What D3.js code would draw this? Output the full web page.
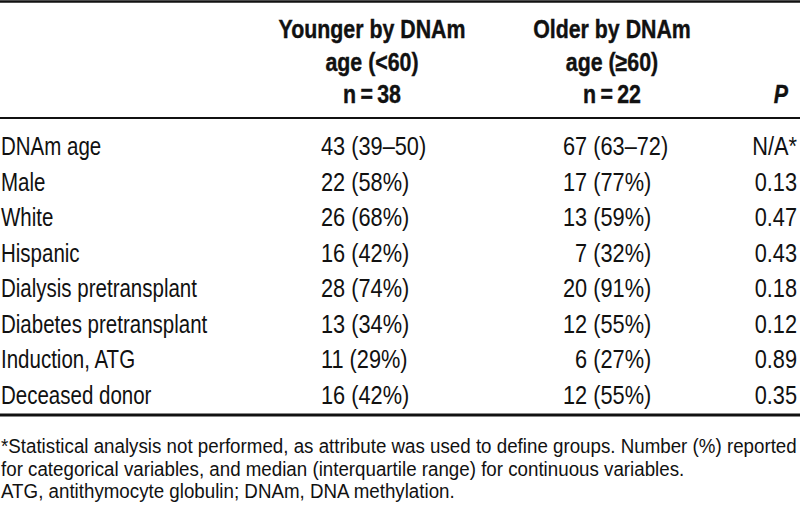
<!DOCTYPE html>
<html>
<head>
<meta charset="utf-8">
<script src="https://cdn.jsdelivr.net/npm/d3@7"></script>
<style>
  html, body { margin: 0; padding: 0; background: #fff; }
  svg { display: block; }
  text { font-family: "Liberation Sans", Arial, sans-serif; fill: #111; }
</style>
</head>
<body>
<svg id="chart" width="800" height="511"></svg>
<script>
const rowLabels = ["DNAm age", "Male", "White", "Hispanic", "Dialysis pretransplant", "Diabetes pretransplant", "Induction, ATG", "Deceased donor"];
const youngerValues = ["43 (39–50)", "22 (58%)", "26 (68%)", "16 (42%)", "28 (74%)", "13 (34%)", "11 (29%)", "16 (42%)"];
const olderValues = ["67 (63–72)", "17 (77%)", "13 (59%)", "\u20077 (32%)", "20 (91%)", "12 (55%)", "\u20076 (27%)", "12 (55%)"];
const pValues = ["N/A*", "0.13", "0.47", "0.43", "0.18", "0.12", "0.89", "0.35"];
const headerYounger = ["Younger by DNAm", "age (<60)", "n\u2009=\u200938"];
const headerOlder = ["Older by DNAm", "age (≥60)", "n\u2009=\u200922"];
const headerP = "P";
const footnotes = [
  "*Statistical analysis not performed, as attribute was used to define groups. Number (%) reported",
  "for categorical variables, and median (interquartile range) for continuous variables.",
  "ATG, antithymocyte globulin; DNAm, DNA methylation."
];

const svg = d3.select("#chart");
const W = 800;

const y = d3.scalePoint().domain(rowLabels).range([155, 404]);
const headerY = d3.scalePoint().domain(d3.range(3)).range([38, 103]);
const footY = d3.scalePoint().domain(d3.range(footnotes.length)).range([453, 498]);

const fs = 25, sx = 0.82, vsx = 0.87;
const hfs = 25.5;

function place(sel, x, yy, s) {
  sel.attr("transform", (d, i) => `translate(${typeof x === "function" ? x(d, i) : x},${typeof yy === "function" ? yy(d, i) : yy}) scale(${s},1)`);
}

// rules
const rules = [{y: 1.5, w: 2.5}, {y: 118, w: 2.2}, {y: 415, w: 3}];
svg.selectAll("line.rule").data(rules).join("line")
  .attr("class", "rule")
  .attr("x1", 0).attr("x2", W)
  .attr("y1", d => d.y).attr("y2", d => d.y)
  .attr("stroke", "#111").attr("stroke-width", d => d.w);

// headers
const hy = svg.selectAll("text.hy").data(headerYounger).join("text")
  .attr("class", "hy")
  .attr("text-anchor", "middle")
  .attr("font-size", hfs).attr("font-weight", "bold")
  .attr("stroke", "#111").attr("stroke-width", 0.4)
  .text(d => d);
const hsx = 187 / hy.node().getComputedTextLength();
hy.call(place, 372, (d, i) => headerY(i), hsx);
svg.selectAll("text.ho").data(headerOlder).join("text")
  .attr("class", "ho")
  .attr("text-anchor", "middle")
  .attr("font-size", hfs).attr("font-weight", "bold")
  .attr("stroke", "#111").attr("stroke-width", 0.4)
  .text(d => d)
  .call(place, 612, (d, i) => headerY(i), hsx);
svg.append("text")
  .attr("text-anchor", "end")
  .attr("font-size", hfs).attr("font-weight", "bold").attr("font-style", "italic")
  .attr("stroke", "#111").attr("stroke-width", 0.4)
  .text(headerP)
  .call(place, 788, headerY(2), hsx);

// body
const rowsG = svg.selectAll("g.row").data(rowLabels.map((l, i) => ({l, a: youngerValues[i], b: olderValues[i], p: pValues[i]})))
  .join("g").attr("class", "row")
  .attr("transform", d => `translate(0,${y(d.l)})`);
rowsG.append("text").attr("font-size", fs).text(d => d.l).call(place, 1, 0, sx);
rowsG.append("text").attr("font-size", fs).text(d => d.a).call(place, 321, 0, vsx);
rowsG.append("text").attr("font-size", fs).text(d => d.b).call(place, 563, 0, vsx);
rowsG.append("text").attr("font-size", fs).attr("text-anchor", "end").text(d => d.p).call(place, 797, 0, vsx);

// footnotes
const foot = svg.selectAll("text.foot").data(footnotes).join("text")
  .attr("class", "foot")
  .attr("font-size", 20)
  .text(d => d);
const firstLen = foot.node().getComputedTextLength();
const fsx = 796 / firstLen;
foot.call(place, 1, (d, i) => footY(i), fsx);
</script>
</body>
</html>
